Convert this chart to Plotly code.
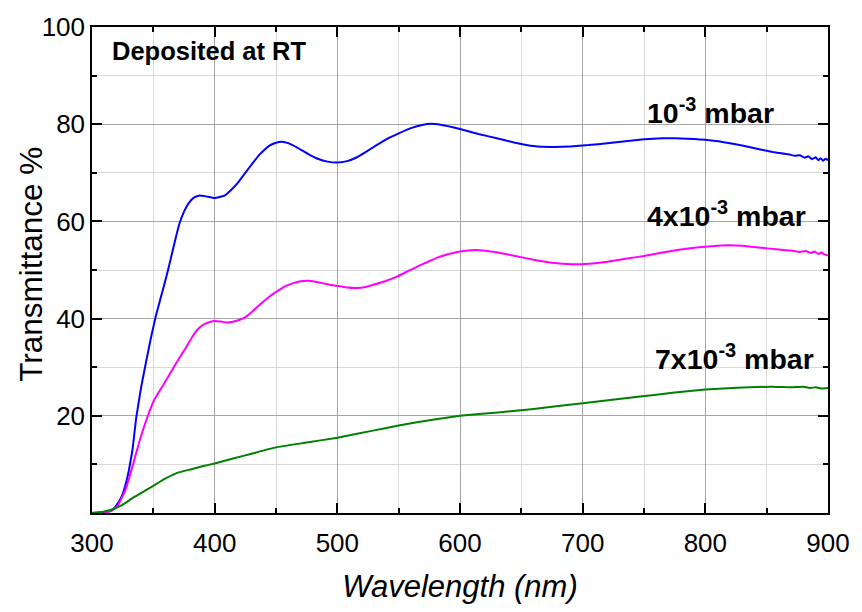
import plotly.graph_objects as go

FONT = "Liberation Sans, Arial, sans-serif"

blue_wl = [300, 310, 316, 320, 324, 327, 330, 333, 336, 340, 344, 348, 352, 357, 362, 367, 371, 375, 379, 383,
           387, 392, 400, 408, 414, 420, 428, 436, 444, 450, 455, 460, 468, 476, 484, 492, 500, 508, 516, 524,
           532, 540, 550, 560, 570, 576, 582, 590, 600, 615, 630, 645, 660, 675, 690, 705, 720, 735, 750, 765,
           775, 785, 800, 815, 830, 845, 855, 862, 868, 873, 877, 881, 884, 887, 890, 892, 894, 896, 898, 900]
blue_T = [0, 0.1, 0.5, 1.6, 3.3, 5.5, 8.7, 13, 19.5, 25.8, 31, 36, 40.5, 45.2, 50, 55.3, 59.3, 62, 63.8, 64.9,
          65.3, 65.2, 64.8, 65.3, 66.6, 68.3, 71, 73.6, 75.5, 76.2, 76.4, 76.1, 75.1, 73.9, 72.9, 72.3, 72.1, 72.4, 73.2, 74.4,
          75.7, 76.9, 78.1, 79.2, 79.9, 80.1, 80.0, 79.6, 79.0, 78.0, 77.1, 76.2, 75.5, 75.3, 75.4, 75.7, 76.1, 76.5, 76.9, 77.1,
          77.1, 77.0, 76.8, 76.3, 75.6, 74.8, 74.3, 74.0, 73.8, 73.5, 73.6, 73.1, 73.4, 72.8, 73.2, 72.6, 73.0, 72.5, 72.9, 72.6]

mag_wl = [300, 310, 316, 321, 327, 331, 335, 339, 343, 347, 350, 354, 358, 362, 366, 371, 376, 380, 384, 388,
          392, 396, 400, 405, 410, 414, 420, 425, 430, 436, 443, 450, 457, 464, 470, 476, 482, 488, 495, 501,
          508, 516, 523, 530, 540, 549, 557, 566, 574, 582, 591, 600, 612, 622, 631, 645, 660, 675, 691, 705,
          720, 735, 750, 765, 780, 795, 810, 820, 830, 845, 860, 870, 877, 882, 886, 889, 892, 895, 897, 900]
mag_T = [0, 0.1, 0.5, 1.5, 4.6, 7.8, 11.4, 15, 18.2, 21, 22.9, 24.7, 26.3, 28, 29.7, 31.8, 33.8, 35.5, 37.1, 38.2,
         38.9, 39.3, 39.5, 39.4, 39.2, 39.3, 39.7, 40.3, 41.3, 42.7, 44.2, 45.5, 46.6, 47.3, 47.7, 47.8, 47.6, 47.3, 46.9, 46.7,
         46.4, 46.3, 46.5, 47.0, 47.8, 48.7, 49.7, 50.8, 51.7, 52.6, 53.3, 53.8, 54.1, 53.9, 53.6, 52.9, 52.1, 51.5, 51.2, 51.3,
         51.7, 52.3, 52.9, 53.6, 54.2, 54.7, 55.0, 55.1, 55.0, 54.6, 54.2, 54.0, 53.7, 53.9, 53.5, 53.8, 53.3, 53.6, 53.2, 53.0]

grn_wl = [300, 308, 315, 322, 328, 332, 340, 350, 360, 370, 381, 390, 400, 415, 430, 450, 475, 500, 528, 550,
          575, 600, 631, 660, 700, 745, 775, 800, 830, 854, 870, 880, 885, 890, 895, 900]
grn_T = [0, 0.2, 0.6, 1.3, 2.2, 2.9, 4.1, 5.6, 7.1, 8.3, 9.0, 9.6, 10.2, 11.2, 12.2, 13.5, 14.5, 15.5, 16.9, 18.0,
         19.1, 20.0, 20.7, 21.4, 22.6, 23.9, 24.8, 25.4, 25.8, 26.0, 25.9, 26.0, 25.7, 25.9, 25.6, 25.7]

series = [
    ("10<sup>-3</sup> mbar", blue_wl, blue_T, "#0000ff"),
    ("4x10<sup>-3</sup> mbar", mag_wl, mag_T, "#ff00ff"),
    ("7x10<sup>-3</sup> mbar", grn_wl, grn_T, "#008000"),
]
# label anchors (left edge x, middle y) in data units
label_pos = [(751, 82.7), (751, 61.6), (757.5, 32.2)]

x_ticks = [300, 400, 500, 600, 700, 800, 900]
y_ticks = [20, 40, 60, 80, 100]

fig = go.Figure()
for (name, wl, T, col) in series:
    fig.add_trace(go.Scatter(x=wl, y=T, mode="lines", name=name,
                             line=dict(color=col, width=2, shape="spline", smoothing=0.3),
                             showlegend=False))

for (name, _, _, _), (lx, ly) in zip(series, label_pos):
    fig.add_annotation(x=lx, y=ly, xref="x", yref="y", text="<b>" + name + "</b>",
                       showarrow=False, xanchor="left", yanchor="middle",
                       font=dict(family=FONT, size=28.5, color="black"))

fig.add_annotation(x=315, y=95.0, xref="x", yref="y", text="<b>Deposited at RT</b>",
                   showarrow=False, xanchor="left", yanchor="middle",
                   font=dict(family=FONT, size=25.5, color="black"))

# y-axis title
fig.add_annotation(x=-0.084, y=0.511, xref="paper", yref="paper", text="Transmittance %",
                   textangle=-90, showarrow=False, xanchor="center", yanchor="middle",
                   font=dict(family=FONT, size=31.5, color="black"))

axis_common = dict(
    showline=True, linecolor="black", linewidth=1.5, mirror="allticks",
    ticks="inside", ticklen=10, tickwidth=1.5, tickcolor="black",
    showgrid=True, gridcolor="#a6a6a6", gridwidth=1, zeroline=False,
    tickfont=dict(family=FONT, size=26, color="black"),
)

fig.update_xaxes(range=[300, 900], tickvals=x_ticks, ticklabelstandoff=6, **axis_common,
                 minor=dict(dtick=50, tick0=300, ticks="inside", ticklen=5, tickwidth=1.5, tickcolor="black",
                            showgrid=True, gridcolor="#d9d9d9", gridwidth=1),
                 title=dict(text="<i>Wavelength (nm)</i>", font=dict(family=FONT, size=31, color="black"), standoff=18))
fig.update_yaxes(range=[0, 100], tickvals=y_ticks, **axis_common,
                 minor=dict(dtick=10, tick0=0, ticks="inside", ticklen=5, tickwidth=1.5, tickcolor="black",
                            showgrid=True, gridcolor="#d9d9d9", gridwidth=1))

fig.update_layout(width=862, height=612, margin=dict(l=92, r=31, t=20, b=99),
                  paper_bgcolor="white", plot_bgcolor="white", font=dict(family=FONT))

fig.write_html("out.html")
